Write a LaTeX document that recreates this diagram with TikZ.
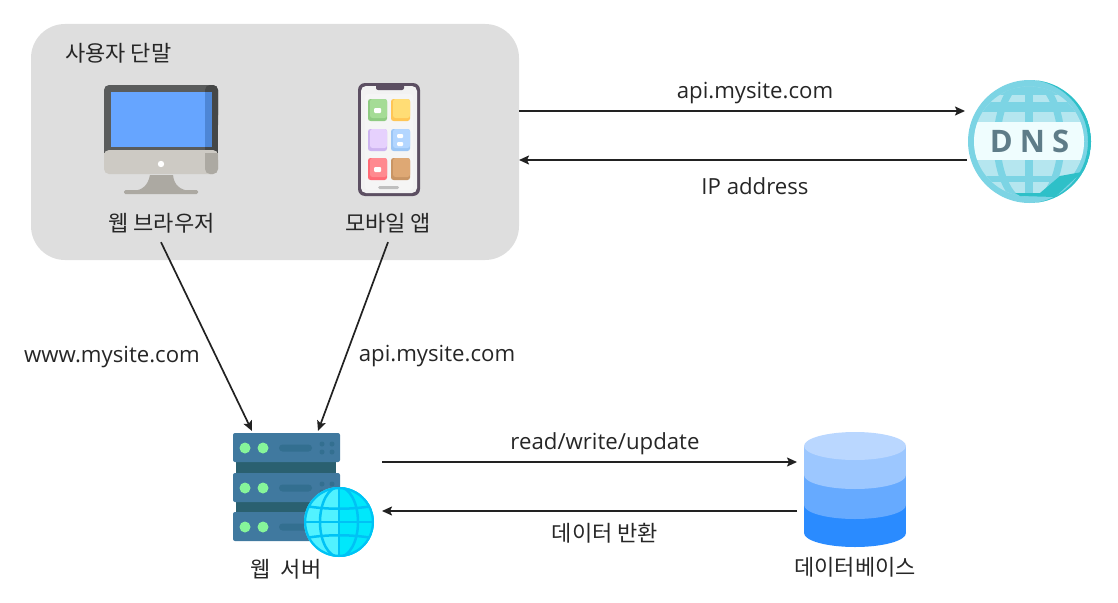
\documentclass[tikz,border=0pt]{standalone}
\usepackage{fontspec}
\setmainfont{Open Sans}
\newfontfamily\krfont{Noto Sans CJK KR}
\usetikzlibrary{positioning}
\usetikzlibrary{arrows.meta}
\definecolor{linkcol}{HTML}{222222}
\definecolor{boxgray}{HTML}{DEDEDE}
\definecolor{rackblue}{HTML}{40799F}
\definecolor{rackdark}{HTML}{2A6070}
\definecolor{rackpill}{HTML}{336F90}
\definecolor{ledgreen}{HTML}{86F59A}
\definecolor{monframe}{HTML}{5A5C5C}
\definecolor{monedge}{HTML}{454747}
\definecolor{monsilver}{HTML}{CDCAC4}
\definecolor{monshade}{HTML}{ACA9A2}
\definecolor{monscreen}{HTML}{66A5FF}
\definecolor{monstrip}{HTML}{4D86D6}
\definecolor{phoneframe}{HTML}{5C4F62}
\definecolor{dnsbase}{HTML}{7CD4E4}
\definecolor{dnslight}{HTML}{B5E6EF}
\definecolor{dnsband}{HTML}{EFFDFE}
\definecolor{dnsdark}{HTML}{2EC0C8}
\definecolor{dnstxt}{HTML}{5E7C88}
\definecolor{globeleft}{HTML}{52F2FF}
\definecolor{globeright}{HTML}{00E8FB}
\definecolor{globeline}{HTML}{00C2F5}
\definecolor{dbtop}{HTML}{BAD7FF}
\definecolor{dbone}{HTML}{9CC7FF}
\definecolor{dbtwo}{HTML}{66AAFF}
\definecolor{dbthree}{HTML}{2A8BFF}
\tikzset{lbl/.style={font=\fontsize{22.2}{24}\selectfont, text=black!85, inner sep=0pt}}
\tikzset{krlbl/.style={font=\fontsize{22}{24}\selectfont\krfont, text=black!85, inner sep=0pt}}
\tikzset{link/.style={-{Stealth[length=10pt,width=9pt,inset=2pt]}, line width=1.7pt, draw=linkcol}}
\tikzset{iconbox/.style={rectangle, inner sep=0pt, outer sep=0pt}}
\begin{document}
\begin{tikzpicture}[x=1pt,y=-1pt]
    \useasboundingbox (0,0) rectangle (1118,602);

    % client box
    \node [iconbox, fill=boxgray, rounded corners=34pt, minimum width=488pt, minimum height=236pt](client) at (275,142) {};
    \node [krlbl, anchor=west](clienttitle) at (65,53) {사용자 단말};

    % monitor
    \fill[monframe, rounded corners=5pt] (104,85) rectangle (218,130);
    \fill[monframe] (104,110) rectangle (218,153);
    \fill[monedge, rounded corners=5pt] (205,85) rectangle (218,120);
    \fill[monedge] (205,92) rectangle (218,153);
    \fill[monsilver, rounded corners=5pt] (104,150) rectangle (218,174);
    \fill[monsilver] (104,153) rectangle (218,165);
    \fill[monshade, rounded corners=5pt] (205,155) rectangle (218,174);
    \fill[monshade] (205,153) rectangle (218,165);
    \fill[monscreen] (111,92) rectangle (205,147);
    \fill[monstrip] (205,92) rectangle (212,147);
    \fill[white] (161,164) circle (3.2);
    \fill[monshade] (150,175) -- (173,175) .. controls (174,185) and (180,190) .. (190,191) -- (133,191) .. controls (143,190) and (148,185) .. (150,175) -- cycle;
    \fill[monshade, rounded corners=1.5pt] (124,190) rectangle (198,194);
    \node [iconbox, minimum width=114pt, minimum height=109pt](browser) at (161,139.5) {};
    \node [krlbl](browserlbl) at (161.5,223) {웹 브라우저};

    % phone
    \fill[phoneframe, rounded corners=7pt] (358,83) rectangle (420,196);
    \fill[black!5, rounded corners=5pt] (361,86) rectangle (417,193);
    \fill[phoneframe, rounded corners=2pt] (376,84) rectangle (404,90);
    \fill[white!96!black, rounded corners=3pt] (365,94) rectangle (413,190);
    \foreach \tx/\ty/\cdark/\clight in {368/99/8FCB82/A5DC96, 391/99/FFC655/FFDD75, 368/129/CDB4F0/E6D1FD, 391/129/9CC6F5/B3D6FF, 368/158/FF6B76/FF8A90, 391/158/C99564/DEA874}{
        \definecolor{tiledark}{HTML}{\cdark}
        \definecolor{tilelight}{HTML}{\clight}
        \fill[tiledark, rounded corners=2.5pt] (\tx,\ty) rectangle ++(19,22);
        \fill[tilelight, rounded corners=2.5pt] (\tx+2,\ty) rectangle ++(17,19);
    }
    \fill[white, rounded corners=1pt] (374,108) rectangle (381,113);
    \fill[white, rounded corners=1pt] (397,134) rectangle (403,138);
    \fill[white, rounded corners=1pt] (397,142) rectangle (403,146);
    \fill[white, rounded corners=1pt] (374,167) rectangle (381,172);
    \fill[black!25, rounded corners=1.5pt] (378,186) rectangle (399,189);
    \node [iconbox, minimum width=62pt, minimum height=113pt](phone) at (389,139.5) {};
    \node [krlbl](phonelbl) at (388,223) {모바일 앱};

    % dns
    \node [iconbox, circle, fill=dnsbase, minimum size=123pt](dns) at (1029.5,141.5) {};
    \begin{scope}
        \clip (1029,141.5) circle (55);
        \fill[dnslight] (960,80) rectangle (1095,205);
        \foreach \yy/\hh in {78/17, 102/10, 176/6, 194/10}{
            \fill[dnsbase] (960,\yy) rectangle ++(135,\hh);
        }
        \fill[dnsbase] (1025,70) rectangle (1033,210);
        \draw[dnsbase, line width=7pt] (1029,141.5) ellipse (32 and 62);
        \fill[dnsband] (960,122) rectangle (1095,160);
    \end{scope}
    \begin{scope}
        \clip (1029.5,141.5) circle (61.5);
        \fill[dnsdark, even odd rule] (1029.5,141.5) circle (62) (1026,141.5) circle (62);
        \fill[dnsdark] (1015,193) -- (1040,193) -- (1060,176) -- (1082,172) -- (1055,197) -- (1020,196) -- cycle;
    \end{scope}
    \node [inner sep=0pt, font=\fontsize{31}{34}\selectfont\bfseries, text=dnstxt](dnstext) at (1029.5,141) {D\hspace{7pt}N\hspace{7pt}S};

    % web server
    \fill[rackdark] (236,460) rectangle (336,476);
    \fill[rackdark] (236,499) rectangle (336,515);
    \foreach \ry in {433,473,512}{
        \fill[rackblue, rounded corners=2pt] (233,\ry) rectangle ++(107,29);
        \fill[ledgreen] (245,\ry+15) circle (5.5);
        \fill[ledgreen] (263,\ry+15) circle (5.5);
        \fill[rackpill, rounded corners=3.5pt] (279,\ry+11.5) rectangle ++(33,7);
        \foreach \dx/\dy in {322/11, 332/11, 322/19, 332/19}{
            \fill[rackpill] (\dx,\ry+\dy) circle (2.5);
        }
    }
    \node [iconbox, minimum width=107pt, minimum height=108pt](server) at (286.5,487) {};
    \node [krlbl](serverlbl) at (286,569) {웹\ \ 서버};
    \node [iconbox, circle, fill=globeleft, minimum size=70pt](globe) at (339,522) {};
    \begin{scope}
        \clip (339,522) circle (35);
        \fill[globeright] (339,487) rectangle (375,557);
        \draw[globeline, line width=2.5pt] (339,522) circle (34);
        \draw[globeline, line width=2.5pt] (339,487) -- (339,557);
        \draw[globeline, line width=2.5pt] (339,522) ellipse (19 and 35);
        \draw[globeline, line width=2.5pt] (300,522) -- (378,522);
        \draw[globeline, line width=2.5pt] (300,505) .. controls (325,510) and (353,510) .. (378,505);
        \draw[globeline, line width=2.5pt] (300,539) .. controls (325,534) and (353,534) .. (378,539);
    \end{scope}

    % database
    \fill[dbthree] (804,505) rectangle (906,533);
    \fill[dbthree] (855,533) ellipse (51 and 14);
    \fill[dbtwo] (804,475) rectangle (906,505);
    \fill[dbtwo] (855,505) ellipse (51 and 14);
    \fill[dbone] (804,446) rectangle (906,475);
    \fill[dbone] (855,475) ellipse (51 and 14);
    \fill[dbtop] (855,446) ellipse (51 and 14);
    \node [iconbox, minimum width=102pt, minimum height=115pt](db) at (855,489.5) {};
    \node [krlbl](dblbl) at (855,567) {데이터베이스};

    % connector labels
    \node [lbl](dnsreq) at (755,93.5) {api.mysite.com};
    \node [lbl](dnsres) at (755,186) {IP address};
    \node [lbl](weblbl) at (112,357) {www.mysite.com};
    \node [lbl](apilbl) at (437,356) {api.mysite.com};
    \node [lbl](dbreq) at (605,443.5) {read/write/update};
    \node [krlbl](dbres) at (605,533) {데이터 반환};

    \draw[link] ([yshift=31pt]client.east) -- ([xshift=-3pt,yshift=30.5pt]dns.west);
    \draw[link] ([xshift=-1pt,yshift=-18.5pt]dns.west) -- ([yshift=-18pt]client.east);
    \draw[link] ([xshift=-0.5pt,yshift=-9pt]browserlbl.south) -- ([xshift=-34.5pt,yshift=2pt]server.north);
    \draw[link] ([yshift=-9pt]phonelbl.south) -- ([xshift=31.5pt,yshift=2pt]server.north);
    \draw[link] ([xshift=42pt,yshift=25pt]server.east) -- ([xshift=-7pt,yshift=27.5pt]db.west);
    \draw[link] ([xshift=-7pt,yshift=-21.5pt]db.west) -- ([xshift=42pt,yshift=-24pt]server.east);
\end{tikzpicture}
\end{document}
